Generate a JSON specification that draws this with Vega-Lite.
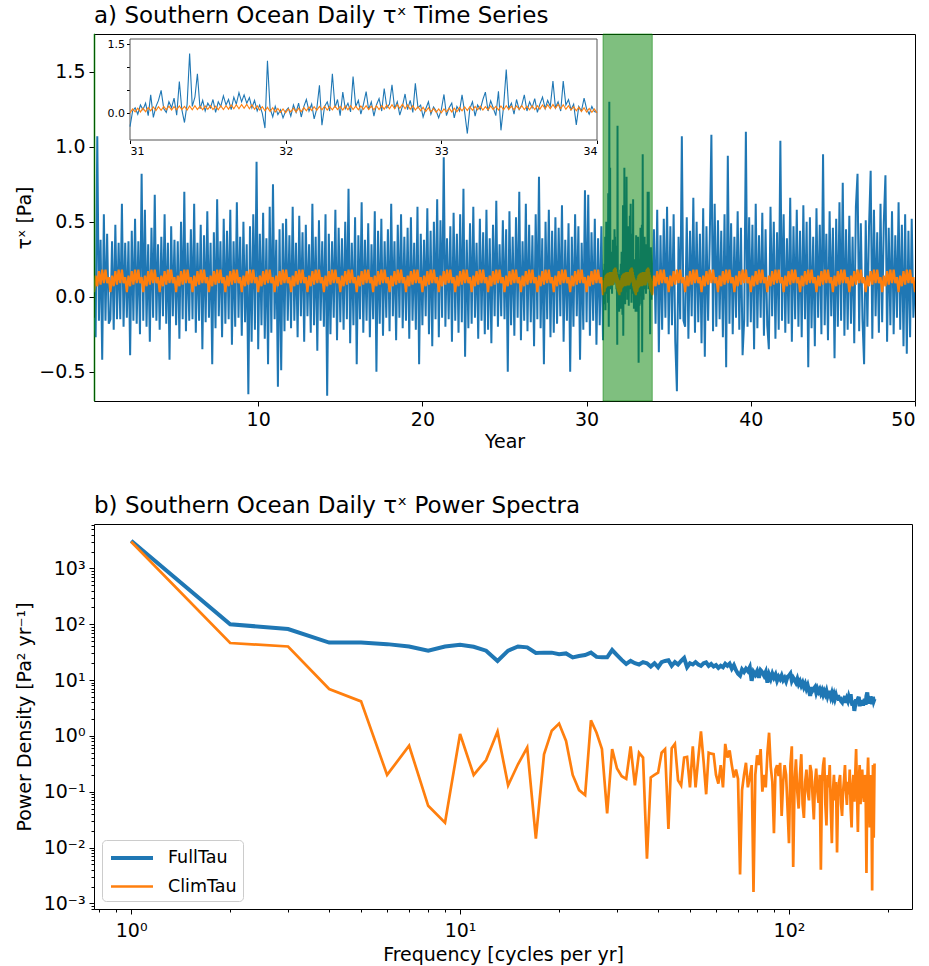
{
"$schema":"https://vega.github.io/schema/vega-lite/v6.json",
"background":"white",
"padding":{"left":14,"top":4,"right":10,"bottom":2},
"spacing":42,
"resolve":{"legend":{"color":"independent","strokeWidth":"independent"}},
"config":{
"font":"DejaVu Sans",
"view":{"stroke":"#000","strokeWidth":1},
"axis":{"grid":false,"domain":false,"labelFont":"DejaVu Sans","labelFontSize":19,"labelColor":"#000","tickColor":"#000","tickSize":5,"tickWidth":1,"labelPadding":4,"titleFont":"DejaVu Sans","titleFontSize":19,"titleFontWeight":"normal","titleColor":"#000"},
"title":{"font":"DejaVu Sans","fontSize":23,"fontWeight":"normal","anchor":"start","frame":"group","color":"#000","offset":6},
"legend":{"labelFont":"DejaVu Sans","labelFontSize":17.5,"labelColor":"#000"}
},
"datasets":{
"ts":[
{"t":0,"f":-0.14,"c":0.03},{"t":0.1,"f":-0.27,"c":0.14},{"t":0.2,"f":1.07,"c":0.07},{"t":0.3,"f":-0.16,"c":0.17},{"t":0.4,"f":0.38,"c":0.08},{"t":0.5,"f":-0.42,"c":0.18},{"t":0.6,"f":0.55,"c":0.09},{"t":0.7,"f":-0.16,"c":0.18},{"t":0.8,"f":0.42,"c":0.09},{"t":0.9,"f":-0.18,"c":0.13},
{"t":1,"f":-0.15,"c":0.03},{"t":1.1,"f":0.37,"c":0.14},{"t":1.2,"f":-0.22,"c":0.07},{"t":1.3,"f":0.48,"c":0.17},{"t":1.4,"f":-0.15,"c":0.08},{"t":1.5,"f":0.36,"c":0.18},{"t":1.6,"f":-0.15,"c":0.09},{"t":1.7,"f":0.62,"c":0.18},{"t":1.8,"f":-0.20,"c":0.09},{"t":1.9,"f":0.36,"c":0.13},
{"t":2,"f":-0.14,"c":0.03},{"t":2.1,"f":0.37,"c":0.14},{"t":2.2,"f":-0.39,"c":0.07},{"t":2.3,"f":0.44,"c":0.17},{"t":2.4,"f":-0.16,"c":0.08},{"t":2.5,"f":0.52,"c":0.18},{"t":2.6,"f":-0.18,"c":0.09},{"t":2.7,"f":0.37,"c":0.18},{"t":2.8,"f":-0.25,"c":0.09},{"t":2.9,"f":0.82,"c":0.13},
{"t":3,"f":-0.16,"c":0.03},{"t":3.1,"f":0.58,"c":0.14},{"t":3.2,"f":-0.20,"c":0.07},{"t":3.3,"f":0.35,"c":0.17},{"t":3.4,"f":-0.30,"c":0.08},{"t":3.5,"f":0.46,"c":0.18},{"t":3.6,"f":-0.14,"c":0.09},{"t":3.7,"f":0.68,"c":0.18},{"t":3.8,"f":-0.16,"c":0.09},{"t":3.9,"f":0.35,"c":0.13},
{"t":4,"f":-0.22,"c":0.03},{"t":4.1,"f":0.40,"c":0.14},{"t":4.2,"f":-0.13,"c":0.07},{"t":4.3,"f":0.55,"c":0.17},{"t":4.4,"f":-0.18,"c":0.08},{"t":4.5,"f":0.36,"c":0.18},{"t":4.6,"f":-0.42,"c":0.09},{"t":4.7,"f":0.47,"c":0.18},{"t":4.8,"f":-0.13,"c":0.09},{"t":4.9,"f":0.38,"c":0.13},
{"t":5,"f":-0.19,"c":0.03},{"t":5.1,"f":0.37,"c":0.14},{"t":5.2,"f":-0.28,"c":0.07},{"t":5.3,"f":0.50,"c":0.17},{"t":5.4,"f":-0.15,"c":0.08},{"t":5.5,"f":0.70,"c":0.18},{"t":5.6,"f":-0.23,"c":0.09},{"t":5.7,"f":0.36,"c":0.18},{"t":5.8,"f":-0.16,"c":0.09},{"t":5.9,"f":0.45,"c":0.13},
{"t":6,"f":-0.15,"c":0.03},{"t":6.1,"f":0.62,"c":0.14},{"t":6.2,"f":-0.24,"c":0.07},{"t":6.3,"f":0.36,"c":0.17},{"t":6.4,"f":-0.16,"c":0.08},{"t":6.5,"f":0.48,"c":0.18},{"t":6.6,"f":-0.35,"c":0.09},{"t":6.7,"f":0.41,"c":0.18},{"t":6.8,"f":-0.17,"c":0.09},{"t":6.9,"f":0.57,"c":0.13},
{"t":7,"f":-0.14,"c":0.03},{"t":7.1,"f":0.36,"c":0.14},{"t":7.2,"f":-0.45,"c":0.07},{"t":7.3,"f":0.43,"c":0.17},{"t":7.4,"f":-0.21,"c":0.08},{"t":7.5,"f":0.65,"c":0.18},{"t":7.6,"f":-0.13,"c":0.09},{"t":7.7,"f":0.37,"c":0.18},{"t":7.8,"f":-0.27,"c":0.09},{"t":7.9,"f":0.52,"c":0.13},
{"t":8,"f":-0.18,"c":0.03},{"t":8.1,"f":0.44,"c":0.14},{"t":8.2,"f":-0.15,"c":0.07},{"t":8.3,"f":0.58,"c":0.17},{"t":8.4,"f":-0.32,"c":0.08},{"t":8.5,"f":0.37,"c":0.18},{"t":8.6,"f":-0.20,"c":0.09},{"t":8.7,"f":0.63,"c":0.18},{"t":8.8,"f":-0.14,"c":0.09},{"t":8.9,"f":0.40,"c":0.13},
{"t":9,"f":-0.26,"c":0.03},{"t":9.1,"f":0.50,"c":0.14},{"t":9.2,"f":-0.17,"c":0.07},{"t":9.3,"f":0.35,"c":0.17},{"t":9.4,"f":-0.65,"c":0.08},{"t":9.5,"f":0.47,"c":0.18},{"t":9.6,"f":-0.30,"c":0.09},{"t":9.7,"f":0.55,"c":0.18},{"t":9.8,"f":-0.22,"c":0.09},{"t":9.9,"f":0.90,"c":0.13},
{"t":10,"f":-0.35,"c":0.03},{"t":10.1,"f":0.42,"c":0.14},{"t":10.2,"f":-0.19,"c":0.07},{"t":10.3,"f":0.56,"c":0.17},{"t":10.4,"f":-0.28,"c":0.08},{"t":10.5,"f":0.39,"c":0.18},{"t":10.6,"f":-0.45,"c":0.09},{"t":10.7,"f":0.60,"c":0.18},{"t":10.8,"f":-0.24,"c":0.09},{"t":10.9,"f":0.75,"c":0.13},
{"t":11,"f":-0.15,"c":0.03},{"t":11.1,"f":0.38,"c":0.14},{"t":11.2,"f":-0.60,"c":0.07},{"t":11.3,"f":0.45,"c":0.17},{"t":11.4,"f":-0.49,"c":0.08},{"t":11.5,"f":0.49,"c":0.18},{"t":11.6,"f":-0.23,"c":0.09},{"t":11.7,"f":0.52,"c":0.18},{"t":11.8,"f":-0.16,"c":0.09},{"t":11.9,"f":0.41,"c":0.13},
{"t":12,"f":-0.21,"c":0.03},{"t":12.1,"f":0.60,"c":0.14},{"t":12.2,"f":-0.16,"c":0.07},{"t":12.3,"f":0.36,"c":0.17},{"t":12.4,"f":-0.27,"c":0.08},{"t":12.5,"f":0.54,"c":0.18},{"t":12.6,"f":-0.13,"c":0.09},{"t":12.7,"f":0.43,"c":0.18},{"t":12.8,"f":-0.30,"c":0.09},{"t":12.9,"f":0.48,"c":0.13},
{"t":13,"f":-0.13,"c":0.03},{"t":13.1,"f":0.35,"c":0.14},{"t":13.2,"f":-0.24,"c":0.07},{"t":13.3,"f":0.62,"c":0.17},{"t":13.4,"f":-0.19,"c":0.08},{"t":13.5,"f":0.40,"c":0.18},{"t":13.6,"f":-0.36,"c":0.09},{"t":13.7,"f":0.51,"c":0.18},{"t":13.8,"f":-0.16,"c":0.09},{"t":13.9,"f":0.37,"c":0.13},
{"t":14,"f":-0.20,"c":0.03},{"t":14.1,"f":0.55,"c":0.14},{"t":14.2,"f":-0.66,"c":0.07},{"t":14.3,"f":0.42,"c":0.17},{"t":14.4,"f":-0.25,"c":0.08},{"t":14.5,"f":0.37,"c":0.18},{"t":14.6,"f":-0.14,"c":0.09},{"t":14.7,"f":0.58,"c":0.18},{"t":14.8,"f":-0.29,"c":0.09},{"t":14.9,"f":0.46,"c":0.13},
{"t":15,"f":-0.17,"c":0.03},{"t":15.1,"f":0.39,"c":0.14},{"t":15.2,"f":-0.22,"c":0.07},{"t":15.3,"f":0.50,"c":0.17},{"t":15.4,"f":-0.15,"c":0.08},{"t":15.5,"f":0.72,"c":0.18},{"t":15.6,"f":-0.31,"c":0.09},{"t":15.7,"f":0.36,"c":0.18},{"t":15.8,"f":-0.19,"c":0.09},{"t":15.9,"f":0.53,"c":0.13},
{"t":16,"f":-0.45,"c":0.03},{"t":16.1,"f":0.41,"c":0.14},{"t":16.2,"f":-0.15,"c":0.07},{"t":16.3,"f":0.63,"c":0.17},{"t":16.4,"f":-0.24,"c":0.08},{"t":16.5,"f":0.38,"c":0.18},{"t":16.6,"f":-0.16,"c":0.09},{"t":16.7,"f":0.49,"c":0.18},{"t":16.8,"f":-0.27,"c":0.09},{"t":16.9,"f":0.35,"c":0.13},
{"t":17,"f":-0.15,"c":0.03},{"t":17.1,"f":0.57,"c":0.14},{"t":17.2,"f":-0.50,"c":0.07},{"t":17.3,"f":0.44,"c":0.17},{"t":17.4,"f":-0.18,"c":0.08},{"t":17.5,"f":0.52,"c":0.18},{"t":17.6,"f":-0.26,"c":0.09},{"t":17.7,"f":0.37,"c":0.18},{"t":17.8,"f":-0.14,"c":0.09},{"t":17.9,"f":0.45,"c":0.13},
{"t":18,"f":-0.23,"c":0.03},{"t":18.1,"f":0.62,"c":0.14},{"t":18.2,"f":-0.13,"c":0.07},{"t":18.3,"f":0.37,"c":0.17},{"t":18.4,"f":-0.29,"c":0.08},{"t":18.5,"f":0.48,"c":0.18},{"t":18.6,"f":-0.14,"c":0.09},{"t":18.7,"f":0.55,"c":0.18},{"t":18.8,"f":-0.21,"c":0.09},{"t":18.9,"f":0.40,"c":0.13},
{"t":19,"f":-0.16,"c":0.03},{"t":19.1,"f":0.46,"c":0.14},{"t":19.2,"f":-0.28,"c":0.07},{"t":19.3,"f":0.53,"c":0.17},{"t":19.4,"f":-0.16,"c":0.08},{"t":19.5,"f":0.36,"c":0.18},{"t":19.6,"f":-0.22,"c":0.09},{"t":19.7,"f":0.60,"c":0.18},{"t":19.8,"f":-0.45,"c":0.09},{"t":19.9,"f":0.42,"c":0.13},
{"t":20,"f":-0.19,"c":0.03},{"t":20.1,"f":0.38,"c":0.14},{"t":20.2,"f":-0.13,"c":0.07},{"t":20.3,"f":0.59,"c":0.17},{"t":20.4,"f":-0.25,"c":0.08},{"t":20.5,"f":0.44,"c":0.18},{"t":20.6,"f":-0.33,"c":0.09},{"t":20.7,"f":0.50,"c":0.18},{"t":20.8,"f":-0.15,"c":0.09},{"t":20.9,"f":0.65,"c":0.13},
{"t":21,"f":-0.27,"c":0.03},{"t":21.1,"f":0.51,"c":0.14},{"t":21.2,"f":-0.14,"c":0.07},{"t":21.3,"f":0.93,"c":0.17},{"t":21.4,"f":-0.20,"c":0.08},{"t":21.5,"f":0.39,"c":0.18},{"t":21.6,"f":-0.15,"c":0.09},{"t":21.7,"f":0.47,"c":0.18},{"t":21.8,"f":-0.30,"c":0.09},{"t":21.9,"f":0.56,"c":0.13},
{"t":22,"f":-0.16,"c":0.03},{"t":22.1,"f":0.42,"c":0.14},{"t":22.2,"f":-0.24,"c":0.07},{"t":22.3,"f":0.55,"c":0.17},{"t":22.4,"f":-0.17,"c":0.08},{"t":22.5,"f":0.72,"c":0.18},{"t":22.6,"f":-0.40,"c":0.09},{"t":22.7,"f":0.38,"c":0.18},{"t":22.8,"f":-0.21,"c":0.09},{"t":22.9,"f":0.49,"c":0.13},
{"t":23,"f":-0.18,"c":0.03},{"t":23.1,"f":0.60,"c":0.14},{"t":23.2,"f":-0.14,"c":0.07},{"t":23.3,"f":0.36,"c":0.17},{"t":23.4,"f":-0.28,"c":0.08},{"t":23.5,"f":0.52,"c":0.18},{"t":23.6,"f":-0.16,"c":0.09},{"t":23.7,"f":0.43,"c":0.18},{"t":23.8,"f":-0.25,"c":0.09},{"t":23.9,"f":0.58,"c":0.13},
{"t":24,"f":-0.22,"c":0.03},{"t":24.1,"f":0.39,"c":0.14},{"t":24.2,"f":-0.31,"c":0.07},{"t":24.3,"f":0.48,"c":0.17},{"t":24.4,"f":-0.13,"c":0.08},{"t":24.5,"f":0.64,"c":0.18},{"t":24.6,"f":-0.20,"c":0.09},{"t":24.7,"f":0.35,"c":0.18},{"t":24.8,"f":-0.13,"c":0.09},{"t":24.9,"f":0.51,"c":0.13},
{"t":25,"f":-0.15,"c":0.03},{"t":25.1,"f":0.45,"c":0.14},{"t":25.2,"f":-0.50,"c":0.07},{"t":25.3,"f":0.57,"c":0.17},{"t":25.4,"f":-0.19,"c":0.08},{"t":25.5,"f":0.40,"c":0.18},{"t":25.6,"f":-0.26,"c":0.09},{"t":25.7,"f":0.53,"c":0.18},{"t":25.8,"f":-0.14,"c":0.09},{"t":25.9,"f":0.70,"c":0.13},
{"t":26,"f":-0.29,"c":0.03},{"t":26.1,"f":0.37,"c":0.14},{"t":26.2,"f":-0.16,"c":0.07},{"t":26.3,"f":0.62,"c":0.17},{"t":26.4,"f":-0.23,"c":0.08},{"t":26.5,"f":0.48,"c":0.18},{"t":26.6,"f":-0.17,"c":0.09},{"t":26.7,"f":0.41,"c":0.18},{"t":26.8,"f":-0.33,"c":0.09},{"t":26.9,"f":0.55,"c":0.13},
{"t":27,"f":-0.15,"c":0.03},{"t":27.1,"f":0.80,"c":0.14},{"t":27.2,"f":-0.21,"c":0.07},{"t":27.3,"f":0.39,"c":0.17},{"t":27.4,"f":-0.45,"c":0.08},{"t":27.5,"f":0.50,"c":0.18},{"t":27.6,"f":-0.15,"c":0.09},{"t":27.7,"f":0.58,"c":0.18},{"t":27.8,"f":-0.27,"c":0.09},{"t":27.9,"f":0.44,"c":0.13},
{"t":28,"f":-0.24,"c":0.03},{"t":28.1,"f":0.53,"c":0.14},{"t":28.2,"f":-0.18,"c":0.07},{"t":28.3,"f":0.46,"c":0.17},{"t":28.4,"f":-0.13,"c":0.08},{"t":28.5,"f":0.61,"c":0.18},{"t":28.6,"f":-0.30,"c":0.09},{"t":28.7,"f":0.38,"c":0.18},{"t":28.8,"f":-0.16,"c":0.09},{"t":28.9,"f":0.49,"c":0.13},
{"t":29,"f":-0.50,"c":0.03},{"t":29.1,"f":0.40,"c":0.14},{"t":29.2,"f":-0.20,"c":0.07},{"t":29.3,"f":0.55,"c":0.17},{"t":29.4,"f":-0.13,"c":0.08},{"t":29.5,"f":0.47,"c":0.18},{"t":29.6,"f":-0.42,"c":0.09},{"t":29.7,"f":0.36,"c":0.18},{"t":29.8,"f":-0.22,"c":0.09},{"t":29.9,"f":0.71,"c":0.13},
{"t":30,"f":-0.17,"c":0.03},{"t":30.1,"f":0.68,"c":0.14},{"t":30.2,"f":-0.26,"c":0.07},{"t":30.3,"f":0.43,"c":0.17},{"t":30.4,"f":-0.16,"c":0.08},{"t":30.5,"f":0.52,"c":0.18},{"t":30.6,"f":-0.32,"c":0.09},{"t":30.7,"f":0.39,"c":0.18},{"t":30.8,"f":-0.19,"c":0.09},{"t":30.9,"f":0.47,"c":0.13},
{"t":31,"f":-0.29,"c":0.01},{"t":31.017,"f":0.05,"c":0.095},{"t":31.033,"f":0.12,"c":0.03},{"t":31.05,"f":-0.02,"c":0.11},{"t":31.067,"f":0.18,"c":0.03},{"t":31.083,"f":0.08,"c":0.11},
{"t":31.1,"f":0.22,"c":0.035},{"t":31.117,"f":-0.05,"c":0.125},{"t":31.133,"f":0.40,"c":0.055},{"t":31.15,"f":-0.09,"c":0.14},{"t":31.167,"f":0.15,"c":0.06},{"t":31.183,"f":0.28,"c":0.145},
{"t":31.2,"f":0.50,"c":0.065},{"t":31.217,"f":0.10,"c":0.15},{"t":31.233,"f":0.02,"c":0.075},{"t":31.25,"f":0.25,"c":0.155},{"t":31.267,"f":0.12,"c":0.07},{"t":31.283,"f":0.33,"c":0.145},
{"t":31.3,"f":-0.04,"c":0.075},{"t":31.317,"f":0.69,"c":0.16},{"t":31.333,"f":0.08,"c":0.08},{"t":31.35,"f":-0.20,"c":0.15},{"t":31.367,"f":0.20,"c":0.07},{"t":31.383,"f":1.30,"c":0.16},
{"t":31.4,"f":0.15,"c":0.075},{"t":31.417,"f":0.35,"c":0.165},{"t":31.433,"f":0.86,"c":0.08},{"t":31.45,"f":0.10,"c":0.155},{"t":31.467,"f":0.28,"c":0.075},{"t":31.483,"f":0.05,"c":0.16},
{"t":31.5,"f":0.22,"c":0.085},{"t":31.517,"f":0.12,"c":0.165},{"t":31.533,"f":0.30,"c":0.08},{"t":31.55,"f":0.02,"c":0.155},{"t":31.567,"f":0.25,"c":0.075},{"t":31.583,"f":0.15,"c":0.165},
{"t":31.6,"f":0.38,"c":0.08},{"t":31.617,"f":0.18,"c":0.165},{"t":31.633,"f":0.30,"c":0.09},{"t":31.65,"f":0.08,"c":0.18},{"t":31.667,"f":0.35,"c":0.10},{"t":31.683,"f":0.20,"c":0.185},
{"t":31.7,"f":0.45,"c":0.10},{"t":31.717,"f":0.25,"c":0.19},{"t":31.733,"f":0.40,"c":0.11},{"t":31.75,"f":0.22,"c":0.195},{"t":31.767,"f":0.34,"c":0.10},{"t":31.783,"f":0.12,"c":0.185},
{"t":31.8,"f":0.28,"c":0.09},{"t":31.817,"f":0.05,"c":0.165},{"t":31.833,"f":0.18,"c":0.07},{"t":31.85,"f":0.00,"c":0.145},{"t":31.867,"f":-0.32,"c":0.055},{"t":31.883,"f":1.14,"c":0.13},
{"t":31.9,"f":0.10,"c":0.04},{"t":31.917,"f":-0.08,"c":0.12},{"t":31.933,"f":0.15,"c":0.03},{"t":31.95,"f":-0.03,"c":0.105},{"t":31.967,"f":0.08,"c":0.02},{"t":31.983,"f":-0.10,"c":0.095},
{"t":32,"f":0.05,"c":0.01},{"t":32.017,"f":0.12,"c":0.095},{"t":32.033,"f":-0.06,"c":0.03},{"t":32.05,"f":0.18,"c":0.11},{"t":32.067,"f":0.02,"c":0.03},{"t":32.083,"f":0.22,"c":0.11},
{"t":32.1,"f":-0.08,"c":0.035},{"t":32.117,"f":0.15,"c":0.125},{"t":32.133,"f":0.30,"c":0.055},{"t":32.15,"f":0.05,"c":0.14},{"t":32.167,"f":0.20,"c":0.06},{"t":32.183,"f":-0.12,"c":0.145},
{"t":32.2,"f":0.10,"c":0.065},{"t":32.217,"f":0.61,"c":0.15},{"t":32.233,"f":-0.26,"c":0.075},{"t":32.25,"f":0.15,"c":0.155},{"t":32.267,"f":0.25,"c":0.07},{"t":32.283,"f":0.05,"c":0.145},
{"t":32.3,"f":0.86,"c":0.075},{"t":32.317,"f":0.12,"c":0.16},{"t":32.333,"f":0.30,"c":0.08},{"t":32.35,"f":-0.05,"c":0.15},{"t":32.367,"f":0.46,"c":0.07},{"t":32.383,"f":0.10,"c":0.16},
{"t":32.4,"f":0.22,"c":0.075},{"t":32.417,"f":0.03,"c":0.165},{"t":32.433,"f":0.80,"c":0.08},{"t":32.45,"f":0.15,"c":0.155},{"t":32.467,"f":0.28,"c":0.075},{"t":32.483,"f":-0.02,"c":0.16},
{"t":32.5,"f":0.20,"c":0.085},{"t":32.517,"f":0.47,"c":0.165},{"t":32.533,"f":0.08,"c":0.08},{"t":32.55,"f":0.25,"c":0.155},{"t":32.567,"f":-0.06,"c":0.075},{"t":32.583,"f":0.18,"c":0.165},
{"t":32.6,"f":0.32,"c":0.08},{"t":32.617,"f":0.05,"c":0.165},{"t":32.633,"f":0.54,"c":0.09},{"t":32.65,"f":0.12,"c":0.18},{"t":32.667,"f":0.20,"c":0.10},{"t":32.683,"f":0.62,"c":0.185},
{"t":32.7,"f":0.10,"c":0.10},{"t":32.717,"f":0.25,"c":0.19},{"t":32.733,"f":-0.04,"c":0.11},{"t":32.75,"f":0.15,"c":0.195},{"t":32.767,"f":0.42,"c":0.10},{"t":32.783,"f":0.08,"c":0.185},
{"t":32.8,"f":0.28,"c":0.09},{"t":32.817,"f":0.02,"c":0.165},{"t":32.833,"f":0.65,"c":0.07},{"t":32.85,"f":0.12,"c":0.145},{"t":32.867,"f":0.18,"c":0.055},{"t":32.883,"f":-0.08,"c":0.13},
{"t":32.9,"f":0.10,"c":0.04},{"t":32.917,"f":0.25,"c":0.12},{"t":32.933,"f":-0.02,"c":0.03},{"t":32.95,"f":0.14,"c":0.105},{"t":32.967,"f":0.05,"c":0.02},{"t":32.983,"f":-0.10,"c":0.095},
{"t":33,"f":0.08,"c":0.01},{"t":33.017,"f":0.41,"c":0.095},{"t":33.033,"f":-0.05,"c":0.03},{"t":33.05,"f":0.12,"c":0.11},{"t":33.067,"f":0.22,"c":0.03},{"t":33.083,"f":-0.10,"c":0.11},
{"t":33.1,"f":0.15,"c":0.035},{"t":33.117,"f":0.05,"c":0.125},{"t":33.133,"f":0.40,"c":0.055},{"t":33.15,"f":0.02,"c":0.14},{"t":33.167,"f":-0.44,"c":0.06},{"t":33.183,"f":0.10,"c":0.145},
{"t":33.2,"f":0.25,"c":0.065},{"t":33.217,"f":-0.06,"c":0.15},{"t":33.233,"f":0.18,"c":0.075},{"t":33.25,"f":0.08,"c":0.155},{"t":33.267,"f":0.30,"c":0.07},{"t":33.283,"f":0.46,"c":0.145},
{"t":33.3,"f":0.05,"c":0.075},{"t":33.317,"f":0.27,"c":0.16},{"t":33.333,"f":0.12,"c":0.08},{"t":33.35,"f":-0.05,"c":0.15},{"t":33.367,"f":0.48,"c":0.07},{"t":33.383,"f":-0.37,"c":0.16},
{"t":33.4,"f":0.15,"c":0.075},{"t":33.417,"f":0.95,"c":0.165},{"t":33.433,"f":0.10,"c":0.08},{"t":33.45,"f":0.22,"c":0.155},{"t":33.467,"f":-0.02,"c":0.075},{"t":33.483,"f":0.30,"c":0.16},
{"t":33.5,"f":0.08,"c":0.085},{"t":33.517,"f":0.18,"c":0.165},{"t":33.533,"f":0.40,"c":0.08},{"t":33.55,"f":0.05,"c":0.155},{"t":33.567,"f":0.25,"c":0.075},{"t":33.583,"f":0.12,"c":0.165},
{"t":33.6,"f":0.32,"c":0.08},{"t":33.617,"f":0.02,"c":0.165},{"t":33.633,"f":0.20,"c":0.09},{"t":33.65,"f":0.35,"c":0.18},{"t":33.667,"f":0.10,"c":0.10},{"t":33.683,"f":0.28,"c":0.185},
{"t":33.7,"f":0.15,"c":0.10},{"t":33.717,"f":0.70,"c":0.19},{"t":33.733,"f":0.12,"c":0.11},{"t":33.75,"f":0.25,"c":0.195},{"t":33.767,"f":0.05,"c":0.10},{"t":33.783,"f":0.70,"c":0.185},
{"t":33.8,"f":0.18,"c":0.09},{"t":33.817,"f":0.30,"c":0.165},{"t":33.833,"f":0.08,"c":0.07},{"t":33.85,"f":0.20,"c":0.145},{"t":33.867,"f":-0.25,"c":0.055},{"t":33.883,"f":0.15,"c":0.13},
{"t":33.9,"f":0.05,"c":0.04},{"t":33.917,"f":0.33,"c":0.12},{"t":33.933,"f":0.10,"c":0.03},{"t":33.95,"f":-0.02,"c":0.105},{"t":33.967,"f":0.15,"c":0.02},{"t":33.983,"f":0.04,"c":0.095},
{"t":34,"f":0.02,"c":0.01},
{"t":34.1,"f":0.45,"c":0.14},{"t":34.2,"f":-0.18,"c":0.07},{"t":34.3,"f":0.58,"c":0.17},{"t":34.4,"f":-0.37,"c":0.08},{"t":34.5,"f":0.41,"c":0.18},{"t":34.6,"f":-0.22,"c":0.09},{"t":34.7,"f":0.52,"c":0.18},{"t":34.8,"f":-0.14,"c":0.09},{"t":34.9,"f":0.60,"c":0.13},
{"t":35,"f":-0.25,"c":0.03},{"t":35.1,"f":0.47,"c":0.14},{"t":35.2,"f":-0.19,"c":0.07},{"t":35.3,"f":0.55,"c":0.17},{"t":35.4,"f":-0.30,"c":0.08},{"t":35.5,"f":-0.63,"c":0.18},{"t":35.6,"f":0.40,"c":0.09},{"t":35.7,"f":-0.15,"c":0.18},{"t":35.8,"f":1.07,"c":0.09},{"t":35.9,"f":-0.16,"c":0.13},
{"t":36,"f":-0.20,"c":0.03},{"t":36.1,"f":0.53,"c":0.14},{"t":36.2,"f":-0.28,"c":0.07},{"t":36.3,"f":0.44,"c":0.17},{"t":36.4,"f":-0.13,"c":0.08},{"t":36.5,"f":0.66,"c":0.18},{"t":36.6,"f":-0.24,"c":0.09},{"t":36.7,"f":0.50,"c":0.18},{"t":36.8,"f":-0.17,"c":0.09},{"t":36.9,"f":0.42,"c":0.13},
{"t":37,"f":-0.31,"c":0.03},{"t":37.1,"f":0.59,"c":0.14},{"t":37.2,"f":-0.40,"c":0.07},{"t":37.3,"f":0.47,"c":0.17},{"t":37.4,"f":-0.16,"c":0.08},{"t":37.5,"f":0.38,"c":0.18},{"t":37.6,"f":1.08,"c":0.09},{"t":37.7,"f":-0.23,"c":0.18},{"t":37.8,"f":0.62,"c":0.09},{"t":37.9,"f":-0.20,"c":0.13},
{"t":38,"f":0.51,"c":0.03},{"t":38.1,"f":-0.15,"c":0.14},{"t":38.2,"f":0.44,"c":0.07},{"t":38.3,"f":-0.27,"c":0.17},{"t":38.4,"f":0.55,"c":0.08},{"t":38.5,"f":-0.47,"c":0.18},{"t":38.6,"f":0.94,"c":0.09},{"t":38.7,"f":-0.18,"c":0.18},{"t":38.8,"f":0.49,"c":0.09},{"t":38.9,"f":-0.25,"c":0.13},
{"t":39,"f":0.40,"c":0.03},{"t":39.1,"f":-0.14,"c":0.14},{"t":39.2,"f":0.57,"c":0.07},{"t":39.3,"f":-0.22,"c":0.17},{"t":39.4,"f":0.46,"c":0.08},{"t":39.5,"f":-0.39,"c":0.18},{"t":39.6,"f":-0.15,"c":0.09},{"t":39.7,"f":1.10,"c":0.18},{"t":39.8,"f":-0.20,"c":0.09},{"t":39.9,"f":0.53,"c":0.13},
{"t":40,"f":-0.17,"c":0.03},{"t":40.1,"f":0.48,"c":0.14},{"t":40.2,"f":-0.35,"c":0.07},{"t":40.3,"f":0.62,"c":0.17},{"t":40.4,"f":-0.21,"c":0.08},{"t":40.5,"f":0.41,"c":0.18},{"t":40.6,"f":-0.14,"c":0.09},{"t":40.7,"f":0.56,"c":0.18},{"t":40.8,"f":-0.26,"c":0.09},{"t":40.9,"f":0.45,"c":0.13},
{"t":41,"f":-0.19,"c":0.03},{"t":41.1,"f":-0.35,"c":0.14},{"t":41.2,"f":0.60,"c":0.07},{"t":41.3,"f":-0.13,"c":0.17},{"t":41.4,"f":0.50,"c":0.08},{"t":41.5,"f":-0.28,"c":0.18},{"t":41.6,"f":0.43,"c":0.09},{"t":41.7,"f":-0.22,"c":0.18},{"t":41.8,"f":1.04,"c":0.09},{"t":41.9,"f":-0.16,"c":0.13},
{"t":42,"f":0.55,"c":0.03},{"t":42.1,"f":-0.24,"c":0.14},{"t":42.2,"f":0.39,"c":0.07},{"t":42.3,"f":-0.18,"c":0.17},{"t":42.4,"f":0.66,"c":0.08},{"t":42.5,"f":-0.30,"c":0.18},{"t":42.6,"f":0.47,"c":0.09},{"t":42.7,"f":-0.15,"c":0.18},{"t":42.8,"f":0.58,"c":0.09},{"t":42.9,"f":-0.20,"c":0.13},
{"t":43,"f":0.44,"c":0.03},{"t":43.1,"f":-0.27,"c":0.14},{"t":43.2,"f":0.61,"c":0.07},{"t":43.3,"f":-0.15,"c":0.17},{"t":43.4,"f":0.50,"c":0.08},{"t":43.5,"f":-0.47,"c":0.18},{"t":43.6,"f":0.53,"c":0.09},{"t":43.7,"f":-0.21,"c":0.18},{"t":43.8,"f":0.40,"c":0.09},{"t":43.9,"f":-0.33,"c":0.13},
{"t":44,"f":0.59,"c":0.03},{"t":44.1,"f":-0.14,"c":0.14},{"t":44.2,"f":0.48,"c":0.07},{"t":44.3,"f":-0.25,"c":0.17},{"t":44.4,"f":0.95,"c":0.08},{"t":44.5,"f":-0.19,"c":0.18},{"t":44.6,"f":0.42,"c":0.09},{"t":44.7,"f":-0.29,"c":0.18},{"t":44.8,"f":0.57,"c":0.09},{"t":44.9,"f":-0.13,"c":0.13},
{"t":45,"f":0.46,"c":0.03},{"t":45.1,"f":-0.41,"c":0.14},{"t":45.2,"f":0.52,"c":0.07},{"t":45.3,"f":-0.20,"c":0.17},{"t":45.4,"f":0.63,"c":0.08},{"t":45.5,"f":-0.16,"c":0.18},{"t":45.6,"f":0.76,"c":0.09},{"t":45.7,"f":-0.26,"c":0.18},{"t":45.8,"f":0.45,"c":0.09},{"t":45.9,"f":-0.22,"c":0.13},
{"t":46,"f":0.54,"c":0.03},{"t":46.1,"f":-0.18,"c":0.14},{"t":46.2,"f":0.40,"c":0.07},{"t":46.3,"f":-0.31,"c":0.17},{"t":46.4,"f":0.60,"c":0.08},{"t":46.5,"f":0.82,"c":0.18},{"t":46.6,"f":-0.23,"c":0.09},{"t":46.7,"f":0.49,"c":0.18},{"t":46.8,"f":-0.15,"c":0.09},{"t":46.9,"f":-0.45,"c":0.13},
{"t":47,"f":0.51,"c":0.03},{"t":47.1,"f":-0.20,"c":0.14},{"t":47.2,"f":0.47,"c":0.07},{"t":47.3,"f":0.84,"c":0.17},{"t":47.4,"f":-0.28,"c":0.08},{"t":47.5,"f":0.58,"c":0.18},{"t":47.6,"f":-0.13,"c":0.09},{"t":47.7,"f":0.43,"c":0.18},{"t":47.8,"f":-0.24,"c":0.09},{"t":47.9,"f":0.62,"c":0.13},
{"t":48,"f":-0.17,"c":0.03},{"t":48.1,"f":0.50,"c":0.14},{"t":48.2,"f":0.81,"c":0.07},{"t":48.3,"f":-0.30,"c":0.17},{"t":48.4,"f":0.46,"c":0.08},{"t":48.5,"f":-0.19,"c":0.18},{"t":48.6,"f":0.57,"c":0.09},{"t":48.7,"f":-0.25,"c":0.18},{"t":48.8,"f":0.41,"c":0.09},{"t":48.9,"f":-0.14,"c":0.13},
{"t":49,"f":0.63,"c":0.03},{"t":49.1,"f":-0.22,"c":0.14},{"t":49.2,"f":0.48,"c":0.07},{"t":49.3,"f":-0.33,"c":0.17},{"t":49.4,"f":0.55,"c":0.08},{"t":49.5,"f":-0.38,"c":0.18},{"t":49.6,"f":0.44,"c":0.09},{"t":49.7,"f":-0.27,"c":0.18},{"t":49.8,"f":0.52,"c":0.09},{"t":49.9,"f":-0.14,"c":0.13},
{"t":50,"f":0.10,"c":0.03}
],
"sp":[
{"f":1,"a":3130,"b":3000},{"f":2,"a":100,"b":46},{"f":3,"a":82,"b":40},{"f":4,"a":47,"b":6.9},{"f":5,"a":47,"b":4.15},{"f":6,"a":44,"b":0.2},{"f":7,"a":40,"b":0.667},{"f":8,"a":33.6,"b":0.056},{"f":9,"a":40,"b":0.028},{"f":10,"a":43,"b":1.08},
{"f":11,"a":39.5,"b":0.2},{"f":12,"a":33.6,"b":0.37},{"f":13,"a":22,"b":1.2},{"f":14,"a":33.6,"b":0.13},{"f":15,"a":40,"b":0.31},{"f":16,"a":38.5,"b":0.62},{"f":17,"a":30.5,"b":0.0145},{"f":18,"a":31,"b":0.47},{"f":19,"a":31,"b":1.24},{"f":20,"a":29,"b":1.66},
{"f":21,"a":30,"b":0.81},{"f":22,"a":25.5,"b":0.2},{"f":23,"a":27,"b":0.107},{"f":24,"a":28,"b":0.087},{"f":25,"a":31,"b":1.9},{"f":26,"a":26,"b":1.14},{"f":27,"a":25.5,"b":0.58},{"f":28,"a":25.5,"b":0.041},{"f":29,"a":34.5,"b":0.58},{"f":30,"a":28,"b":0.26},
{"f":31,"a":23,"b":0.19},{"f":32,"a":19.4,"b":0.17},{"f":33,"a":22,"b":0.65},{"f":34,"a":20,"b":0.13},{"f":35,"a":19,"b":0.5},{"f":36,"a":21,"b":0.41},{"f":37,"a":20,"b":0.0063},{"f":38,"a":17.5,"b":0.18},{"f":39,"a":20,"b":0.2},{"f":40,"a":17,"b":0.22},
{"f":41,"a":21,"b":0.5},{"f":42,"a":22,"b":0.58},{"f":43,"a":22.7,"b":0.0215},{"f":44,"a":18,"b":0.6},{"f":45,"a":21,"b":0.72},{"f":46,"a":19,"b":0.16},{"f":47,"a":22,"b":0.13},{"f":48,"a":24.8,"b":0.41},{"f":49,"a":17,"b":0.42},{"f":50,"a":20,"b":0.12},
{"f":51,"a":19,"b":0.65},{"f":52,"a":21,"b":0.12},{"f":53,"a":19,"b":0.4},{"f":54,"a":18,"b":1.2},{"f":55,"a":20,"b":0.35},{"f":56,"a":20.8,"b":0.09},{"f":57,"a":18,"b":0.5},{"f":58,"a":19.5,"b":0.48},{"f":59,"a":17.5,"b":0.47},{"f":60,"a":18.5,"b":0.2},
{"f":61,"a":16.5,"b":0.14},{"f":62,"a":18,"b":0.3},{"f":63,"a":17,"b":0.12},{"f":64,"a":19.6,"b":0.72},{"f":65,"a":18,"b":0.41},{"f":66,"a":19.6,"b":0.55},{"f":67,"a":16,"b":0.3},{"f":68,"a":18.5,"b":0.18},{"f":69,"a":15,"b":0.25},{"f":70,"a":13,"b":0.17},
{"f":71,"a":12,"b":0.0033},{"f":72,"a":15.5,"b":0.107},{"f":73,"a":14,"b":0.2},{"f":74,"a":16,"b":0.33},{"f":75,"a":14.5,"b":0.12},{"f":76,"a":17,"b":0.18},{"f":77,"a":9.7,"b":0.3},{"f":78,"a":14,"b":0.0016},{"f":79,"a":12.5,"b":0.2},{"f":80,"a":14.5,"b":0.45},
{"f":81,"a":11,"b":0.3},{"f":82,"a":15,"b":0.58},{"f":83,"a":13.8,"b":0.1},{"f":84,"a":12,"b":0.2},{"f":85,"a":14,"b":0.12},{"f":86,"a":9,"b":0.5},{"f":87,"a":12.5,"b":1.14},{"f":88,"a":10.5,"b":0.28},{"f":89,"a":13,"b":0.15},{"f":90,"a":11,"b":0.018},
{"f":91,"a":12.5,"b":0.25},{"f":92,"a":9.8,"b":0.3},{"f":93,"a":11.5,"b":0.19},{"f":94,"a":10.4,"b":0.33},{"f":95,"a":12,"b":0.037},{"f":96,"a":10,"b":0.15},{"f":97,"a":11,"b":0.3},{"f":98,"a":9.5,"b":0.2},{"f":99,"a":11.5,"b":0.05},{"f":100,"a":12,"b":0.012},
{"f":101,"a":13,"b":0.3},{"f":102,"a":9.7,"b":0.65},{"f":103,"a":11,"b":0.0045},{"f":104,"a":10,"b":0.15},{"f":105,"a":9,"b":0.38},{"f":106,"a":10.5,"b":0.1},{"f":107,"a":8.5,"b":0.05},{"f":108,"a":9.5,"b":0.2},{"f":109,"a":8,"b":0.47},{"f":110,"a":9,"b":0.06},
{"f":111,"a":7.5,"b":0.034},{"f":112,"a":8.5,"b":0.15},{"f":113,"a":7,"b":0.25},{"f":114,"a":8,"b":0.1},{"f":115,"a":6.5,"b":0.07},{"f":116,"a":5.2,"b":0.3},{"f":117,"a":7.5,"b":0.23},{"f":118,"a":6.5,"b":0.08},{"f":119,"a":7,"b":0.032},{"f":120,"a":7.5,"b":0.15},
{"f":121,"a":6,"b":0.26},{"f":122,"a":7,"b":0.1},{"f":123,"a":6.2,"b":0.063},{"f":124,"a":6.8,"b":0.2},{"f":125,"a":5.8,"b":0.004},{"f":126,"a":6.5,"b":0.15},{"f":127,"a":5.5,"b":0.3},{"f":128,"a":6.3,"b":0.41},{"f":129,"a":5.6,"b":0.06},{"f":130,"a":6.4,"b":0.025},
{"f":131,"a":5.2,"b":0.2},{"f":132,"a":6,"b":0.12},{"f":133,"a":6,"b":0.3},{"f":134,"a":5,"b":0.05},{"f":135,"a":5.8,"b":0.012},{"f":136,"a":4.8,"b":0.1},{"f":137,"a":5.5,"b":0.2},{"f":138,"a":4.6,"b":0.07},{"f":139,"a":5.3,"b":0.15},{"f":140,"a":4.5,"b":0.0082},
{"f":141,"a":5.4,"b":0.09},{"f":142,"a":4.3,"b":0.15},{"f":143,"a":5,"b":0.2},{"f":144,"a":4.2,"b":0.06},{"f":145,"a":4,"b":0.037},{"f":146,"a":4.8,"b":0.1},{"f":147,"a":4.1,"b":0.16},{"f":148,"a":5.2,"b":0.3},{"f":149,"a":3.9,"b":0.1},{"f":150,"a":4.6,"b":0.058},
{"f":151,"a":4.2,"b":0.15},{"f":152,"a":5,"b":0.09},{"f":153,"a":4.4,"b":0.25},{"f":154,"a":5.6,"b":0.05},{"f":155,"a":4,"b":0.023},{"f":156,"a":3.5,"b":0.12},{"f":157,"a":4.3,"b":0.2},{"f":158,"a":2.8,"b":0.066},{"f":159,"a":3.6,"b":0.2},{"f":160,"a":4.5,"b":0.58},
{"f":161,"a":3.8,"b":0.1},{"f":162,"a":4.6,"b":0.019},{"f":163,"a":5,"b":0.15},{"f":164,"a":3.4,"b":0.3},{"f":165,"a":4.2,"b":0.06},{"f":166,"a":3.7,"b":0.12},{"f":167,"a":4.4,"b":0.25},{"f":168,"a":3.5,"b":0.1},{"f":169,"a":4,"b":0.066},{"f":170,"a":4.6,"b":0.2},
{"f":171,"a":3.6,"b":0.12},{"f":172,"a":5.2,"b":0.0035},{"f":173,"a":6,"b":0.15},{"f":174,"a":3.9,"b":0.41},{"f":175,"a":4.3,"b":0.1},{"f":176,"a":3.8,"b":0.023},{"f":177,"a":5.1,"b":0.2},{"f":178,"a":4.4,"b":0.12},{"f":179,"a":3.7,"b":0.0017},{"f":180,"a":5,"b":0.3},
{"f":181,"a":4.2,"b":0.015},{"f":182,"a":4.6,"b":0.32}
]
},
"vconcat":[
{
"title":{"text":"a) Southern Ocean Daily τˣ Time Series"},
"width":821,"height":367,
"layer":[
{"data":{"name":"ts"},"mark":{"type":"line","color":"#1f77b4","strokeWidth":2,"clip":true},
"encoding":{
"x":{"field":"t","type":"quantitative","scale":{"domain":[0,50],"nice":false,"zero":false},"axis":{"title":"Year","values":[10,20,30,40,50],"titlePadding":3}},
"y":{"field":"f","type":"quantitative","scale":{"domain":[-0.695,1.751],"nice":false,"zero":false},"axis":{"title":"τˣ [Pa]","values":[-0.5,0,0.5,1,1.5],"labelExpr":"replace(format(datum.value, '.1f'), '-', '−')","titleX":-60}}}},
{"data":{"name":"ts"},"mark":{"type":"line","color":"#ff7f0e","strokeWidth":2.2,"clip":true},
"encoding":{
"x":{"field":"t","type":"quantitative","scale":{"domain":[0,50],"nice":false,"zero":false},"axis":null},
"y":{"field":"c","type":"quantitative","scale":{"domain":[-0.695,1.751],"nice":false,"zero":false},"axis":null}}},
{"data":{"values":[{"a":0,"b":0.06},{"a":31,"b":34}]},"mark":{"type":"rect","fill":"#008000","fillOpacity":0.5,"stroke":"#008000","strokeOpacity":0.5,"strokeWidth":1},
"encoding":{
"x":{"field":"a","type":"quantitative","scale":{"domain":[0,50],"nice":false,"zero":false},"axis":null},
"x2":{"field":"b"}}},
{"data":{"values":[{"a":31,"b":34,"lo":-0.58,"hi":1.615}]},"mark":{"type":"rect","fill":"white","stroke":"#555","strokeWidth":1},
"encoding":{
"x":{"field":"a","type":"quantitative","scale":{"domain":[31,34],"range":[36,503],"nice":false,"zero":false},"axis":{"orient":"bottom","offset":-261,"values":[31,32,33,34],"format":"d","labelFontSize":11,"tickSize":3.5,"labelPadding":2,"title":null}},
"x2":{"field":"b"},
"y":{"field":"lo","type":"quantitative","scale":{"domain":[-0.58,1.615],"range":[106,5],"nice":false,"zero":false},"axis":{"orient":"left","offset":-36,"values":[0,0.5,1,1.5],"labelExpr":"datum.value==0?'0.0':(datum.value==1.5?'1.5':'')","labelFontSize":11,"tickSize":3.5,"labelPadding":2,"title":null}},
"y2":{"field":"hi"}}},
{"data":{"name":"ts"},"transform":[{"filter":"datum.t>=31 && datum.t<=34"}],"mark":{"type":"line","color":"#1f77b4","strokeWidth":1.1,"clip":true},
"encoding":{
"x":{"field":"t","type":"quantitative","scale":{"domain":[31,34],"range":[36,503],"nice":false,"zero":false},"axis":null},
"y":{"field":"f","type":"quantitative","scale":{"domain":[-0.58,1.615],"range":[106,5],"nice":false,"zero":false},"axis":null}}},
{"data":{"name":"ts"},"transform":[{"filter":"datum.t>=31 && datum.t<=34"}],"mark":{"type":"line","color":"#ff7f0e","strokeWidth":1.1,"clip":true},
"encoding":{
"x":{"field":"t","type":"quantitative","scale":{"domain":[31,34],"range":[36,503],"nice":false,"zero":false},"axis":null},
"y":{"field":"c","type":"quantitative","scale":{"domain":[-0.58,1.615],"range":[106,5],"nice":false,"zero":false},"axis":null}}}
],
"resolve":{"scale":{"x":"independent","y":"independent"},"axis":{"x":"independent","y":"independent"}}
},
{
"title":{"text":"b) Southern Ocean Daily τˣ Power Spectra"},
"width":818,"height":385,
"data":{"name":"sp"},
"transform":[{"fold":["a","b"],"as":["s","p"]}],
"layer":[
{"mark":{"type":"line","clip":true},
"encoding":{
"x":{"field":"f","type":"quantitative","scale":{"type":"log","domain":[0.771,236.6],"nice":false},"axis":{"values":[1,10,100],"labelExpr":"datum.value==1?'10⁰':(datum.value==10?'10¹':'10²')","title":"Frequency [cycles per yr]","labelPadding":7,"titlePadding":5}},
"y":{"field":"p","type":"quantitative","scale":{"type":"log","domain":[0.000794,6237],"nice":false},"axis":{"values":[0.001,0.01,0.1,1,10,100,1000],"labelExpr":"datum.value>=999?'10³':(datum.value>=99?'10²':(datum.value>=9?'10¹':(datum.value>=0.9?'10⁰':(datum.value>=0.09?'10⁻¹':(datum.value>=0.009?'10⁻²':'10⁻³')))))","title":"Power Density [Pa² yr⁻¹]","titleX":-60}},
"color":{"field":"s","type":"nominal","scale":{"domain":["a","b"],"range":["#1f77b4","#ff7f0e"]},"legend":{"title":null,"orient":"bottom-left","offset":8,"strokeColor":"#cccccc","fillColor":"white","cornerRadius":4,"padding":6,"symbolType":"M-0.9,0H3.3","symbolSize":400,"rowPadding":8,"labelOffset":36,"labelExpr":"datum.value=='a'?'FullTau':'ClimTau'"}},
"strokeWidth":{"field":"s","type":"nominal","scale":{"domain":["a","b"],"range":[4,2.7]},"legend":{"title":null,"orient":"bottom-left","offset":8,"strokeColor":"#cccccc","fillColor":"white","cornerRadius":4,"padding":6,"symbolType":"M-0.9,0H3.3","symbolSize":400,"rowPadding":8,"labelOffset":36,"labelExpr":"datum.value=='a'?'FullTau':'ClimTau'"}}
}},
{"mark":{"type":"line","strokeOpacity":0},
"encoding":{
"x":{"field":"f","type":"quantitative","axis":{"orient":"bottom","values":[0.8,0.9,2,3,4,5,6,7,8,9,20,30,40,50,60,70,80,90,200],"labels":false,"tickSize":3,"title":null}},
"y":{"field":"p","type":"quantitative","axis":{"orient":"left","values":[0.0008,0.0009,0.002,0.003,0.004,0.005,0.006,0.007,0.008,0.009,0.02,0.03,0.04,0.05,0.06,0.07,0.08,0.09,0.2,0.3,0.4,0.5,0.6,0.7,0.8,0.9,2,3,4,5,6,7,8,9,20,30,40,50,60,70,80,90,200,300,400,500,600,700,800,900,2000,3000,4000,5000,6000],"labels":false,"tickSize":3,"title":null}},
"detail":{"field":"s"}}}
],
"resolve":{"axis":{"x":"independent","y":"independent"}}
}
]
}
